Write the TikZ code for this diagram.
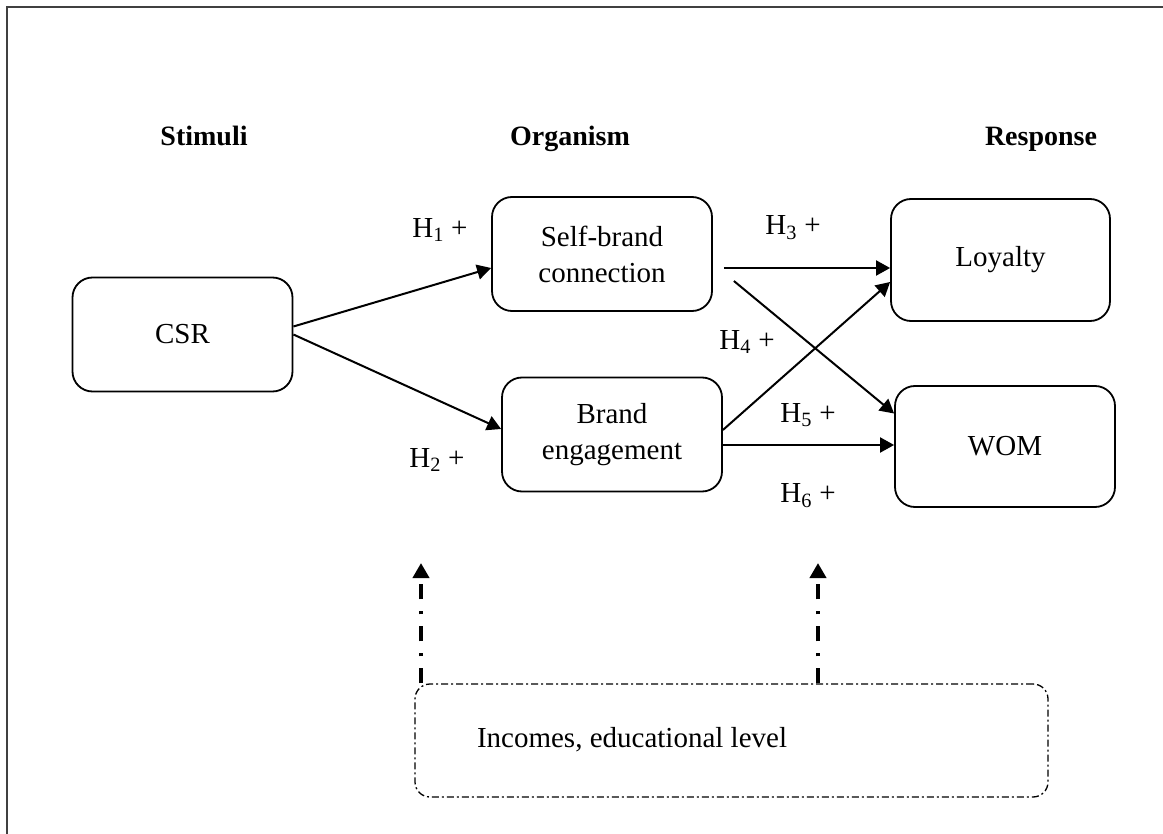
\documentclass[tikz,border=0pt]{standalone}
\usepackage{fontspec}
\setmainfont{Liberation Serif}
\usetikzlibrary{arrows.meta,calc}
\tikzset{
  box/.style={draw, line width=1.8pt, rounded corners=20pt, align=center,
    minimum width=220pt, minimum height=114pt, inner sep=0pt,
    font=\fontsize{29}{36}\selectfont},
  head/.style={font=\fontsize{28}{34}\selectfont\bfseries, anchor=base},
  lab/.style={font=\fontsize{29}{34}\selectfont},
  arr/.style={line width=2pt, -{Triangle[length=14pt,width=15pt]}},
  modarr/.style={line width=4pt, dash pattern=on 15pt off 12pt on 3pt off 12pt,
    -{Triangle[length=15pt,width=16pt]}},
  modbox/.style={draw, line width=1.3pt, dash pattern=on 7pt off 3pt on 2pt off 3pt,
    rounded corners=15pt, minimum width=633pt, minimum height=113pt},
  modtext/.style={font=\fontsize{29}{34}\selectfont}
}
\begin{document}
\begin{tikzpicture}[x=1pt,y=-1pt]
\useasboundingbox (0,0) rectangle (1163,834);
\draw[line width=1.3pt, black!75] (7,850) -- (7,7) -- (1180,7);

\node[head] (stim) at (204,146) {Stimuli};
\node[head] (org) at (570,146) {Organism};
\node[head] (resp) at (1041,146) {Response};

\node[box] (csr) at (182.5,334.5) {CSR};
\node[box] (sbc) at (602,254) {Self-brand\\connection};
\node[box] (be) at (612,434.5) {Brand\\engagement};
\node[box, minimum width=219pt, minimum height=122pt] (loy) at (1000.5,260) {Loyalty};
\node[box, minimum height=121pt] (wom) at (1005,446.5) {WOM};

\node[modbox] (mod) at (731.5,740.5) {};
\node[modtext] (modt) at (632,740) {Incomes, educational level};

\draw[arr] ([yshift=8pt]csr.east) -- ([yshift=-14pt]sbc.west);
\draw[arr] (csr.east) -- ([yshift=5.5pt]be.west);
\draw[arr] ([xshift=11pt,yshift=-14pt]sbc.east) coordinate (h3s) -- (h3s -| loy.west);
\draw[arr] ([xshift=21pt,yshift=-27pt]sbc.east) -- ([yshift=33pt]wom.west);
\draw[arr] ([yshift=4.5pt]be.east) -- ([yshift=-22pt]loy.west);
\draw[arr] ([yshift=-10.5pt]be.east) coordinate (h5s) -- (h5s -| wom.west);

\node[lab] (h1) at (440,230) {H\textsubscript{1} +};
\node[lab] (h2) at (437,460) {H\textsubscript{2} +};
\node[lab] (h3) at (793,228) {H\textsubscript{3} +};
\node[lab] (h4) at (747,342) {H\textsubscript{4} +};
\node[lab] (h5) at (808,415) {H\textsubscript{5} +};
\node[lab] (h6) at (808,496) {H\textsubscript{6} +};

\coordinate (t1) at (421,563);
\coordinate (t2) at (818,563);
\draw[modarr] (mod.north west -| t1) -- (t1);
\draw[modarr] (mod.north west -| t2) -- (t2);
\end{tikzpicture}
\end{document}
